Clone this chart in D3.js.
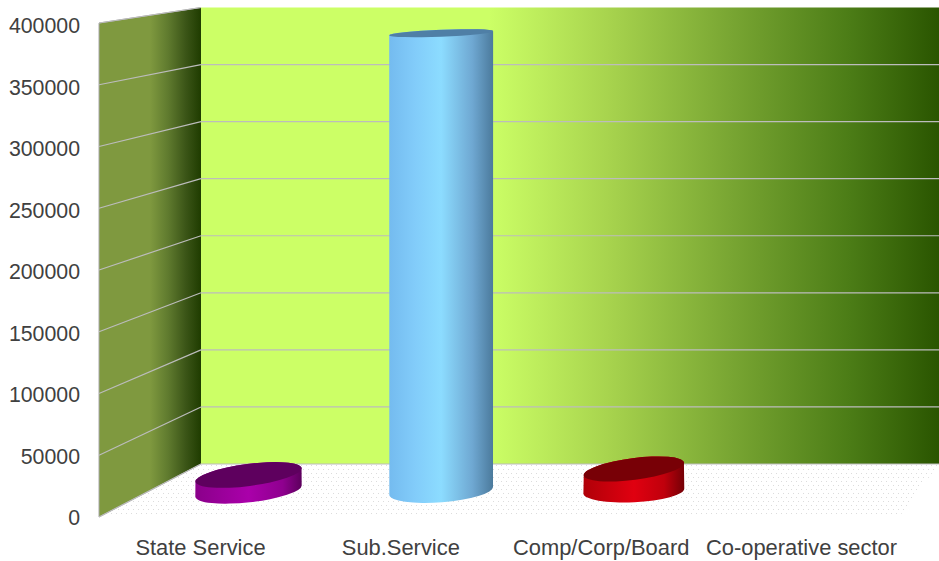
<!DOCTYPE html>
<html>
<head>
<meta charset="utf-8">
<script src="https://cdnjs.cloudflare.com/ajax/libs/d3/7.8.5/d3.min.js"></script>
<style>
html,body{margin:0;padding:0;background:#fff;overflow:hidden}
svg{display:block}
text{font-family:"Liberation Sans",Arial,sans-serif;fill:#404040}
</style>
</head>
<body>
<svg id="c" width="939" height="561"></svg>
<script>
const categories = ["State Service","Sub.Service","Comp/Corp/Board","Co-operative sector"];
const values = [13500,385500,18500,0];
const tickValues = [0,50000,100000,150000,200000,250000,300000,350000,400000];
const sideStops = [
  [["0%","#8a008a"],["50%","#aa00aa"],["82%","#8f008f"],["100%","#5c005c"]],
  [["0%","#74bbef"],["25%","#82ccfa"],["50%","#8cdcff"],["80%","#6fa8d2"],["100%","#4b7a9c"]],
  [["0%","#b00008"],["50%","#e00010"],["80%","#c0000c"],["100%","#740006"]],
  [["0%","#888"],["100%","#888"]]
];
const topColors = ["#5e005e","#4f7fa6","#780006","#555"];

const svg = d3.select("#c");
const defs = svg.append("defs");
const L = 99, B = 201, R = 939, FB = 517, BB = 464;

const yFront = d3.scaleLinear().domain([0,400000]).range([FB,23]);
const yTick  = d3.scaleLinear().domain([0,400000]).range([FB+1,26]);
const yBack  = d3.scaleLinear().domain([0,400000]).range([BB,7.5]);
const yBar   = d3.scaleLinear().domain([0,400000]).range([491,16]);
const xBar   = d3.scalePoint().domain(categories).range([248.5,826.5]);
const xLabel = d3.scalePoint().domain(categories).range([200,801]);
const idx = d3.scaleLinear().domain([0,2]);
const rxS = idx.copy().range([53.5,50.5]);
const baseRot = idx.copy().range([6.2,2.8]);
const ryTop = d3.scaleLinear().domain([33,475]).range([3.5,11]);
const rotTop = d3.scaleLinear().domain([33,475]).range([2.2,7.4]);
const baseRy = 11.3;

// gradients
function grad(id, x1, x2, stops){
  const g = defs.append("linearGradient").attr("id",id).attr("gradientUnits","userSpaceOnUse")
    .attr("x1",x1).attr("x2",x2).attr("y1",0).attr("y2",0);
  stops.forEach(s=>g.append("stop").attr("offset",s[0]).attr("stop-color",s[1]));
}
grad("back",B,R,[["0%","#ccff66"],["39%","#ccff66"],["55%","#a8d44e"],["72%","#78a532"],["88%","#4b7c16"],["100%","#2a5500"]]);
grad("side",L,B,[["0%","#7f993f"],["50%","#7f993f"],["68%","#5f7a2e"],["85%","#3b5517"],["100%","#1f3c00"]]);

const pat = defs.append("pattern").attr("id","dots").attr("patternUnits","userSpaceOnUse")
  .attr("width",10).attr("height",8);
[[1,1],[6,1],[3,5],[8,5]].forEach(p=>pat.append("rect").attr("x",p[0]).attr("y",p[1]).attr("width",1).attr("height",1).attr("fill","#dcdcdc"));

// floor
svg.append("path").attr("d",d3.line()([[L,FB],[B,BB],[R,BB],[899,FB]])+"Z").attr("fill","url(#dots)");

// walls
svg.append("rect").attr("x",B).attr("y",yBack(400000)).attr("width",R-B).attr("height",BB-yBack(400000)).attr("fill","url(#back)");
svg.append("path").attr("d",d3.line()([[L,yFront(400000)],[B,yBack(400000)],[B,BB],[L,FB]])+"Z")
  .attr("fill","url(#side)");
svg.append("path").attr("d",d3.line()([[B,yBack(400000)],[L,yFront(400000)],[L,FB],[B,BB]]))
  .attr("fill","none").attr("stroke","#a8a8a8").attr("stroke-width",1);

// gridlines
const grid = svg.append("g").attr("stroke","#bcbcbc").attr("stroke-width",1.2).attr("fill","none");
tickValues.forEach(v=>{
  grid.append("path").attr("d",d3.line()([[L,yFront(v)],[B,yBack(v)]]));
  if(v<400000) grid.append("line").attr("x1",B).attr("x2",R).attr("y1",yBack(v)).attr("y2",yBack(v));
});

// columns
function endPts(cx,cy,rx,deg){
  const a = deg*Math.PI/180, dx = rx*Math.cos(a), dy = rx*Math.sin(a);
  return {l:[cx-dx,cy+dy], r:[cx+dx,cy-dy]};
}
values.forEach((v,i)=>{
  if(v<=0) return;
  const c = categories[i], cx = xBar(c), rx = rxS(i);
  const by = yBar(0), ty = yBar(v);
  const tr = rotTop(ty), try_ = ryTop(ty), br = baseRot(i);
  const T = endPts(cx,ty,rx,tr), Bt = endPts(cx,by,rx,br);
  grad("col"+i,cx-rx,cx+rx,sideStops[i]);
  svg.append("path")
    .attr("d",`M${T.l}L${Bt.l}A${rx},${baseRy} ${-br} 0 0 ${Bt.r}L${T.r}A${rx},${try_} ${-tr} 0 0 ${T.l}Z`)
    .attr("fill",`url(#col${i})`);
  svg.append("ellipse").attr("rx",rx).attr("ry",try_)
    .attr("transform",`translate(${cx},${ty}) rotate(${-tr})`)
    .attr("fill",topColors[i]);
});

// axes
const ya = svg.append("g").attr("transform",`translate(${L-1},0)`)
  .call(d3.axisLeft(yTick).tickValues(tickValues).tickFormat(d3.format("d")).tickSize(0).tickPadding(18));
ya.select(".domain").remove();
ya.selectAll("text").attr("font-size",21.3).style("font-family",'"Liberation Sans",Arial,sans-serif').attr("fill","#404040");

const xa = svg.append("g").attr("transform","translate(0,529.5)")
  .call(d3.axisBottom(xLabel).tickSize(0).tickPadding(10));
xa.select(".domain").remove();
xa.selectAll("text").attr("font-size",21.9).style("font-family",'"Liberation Sans",Arial,sans-serif').attr("fill","#404040");
</script>
</body>
</html>
